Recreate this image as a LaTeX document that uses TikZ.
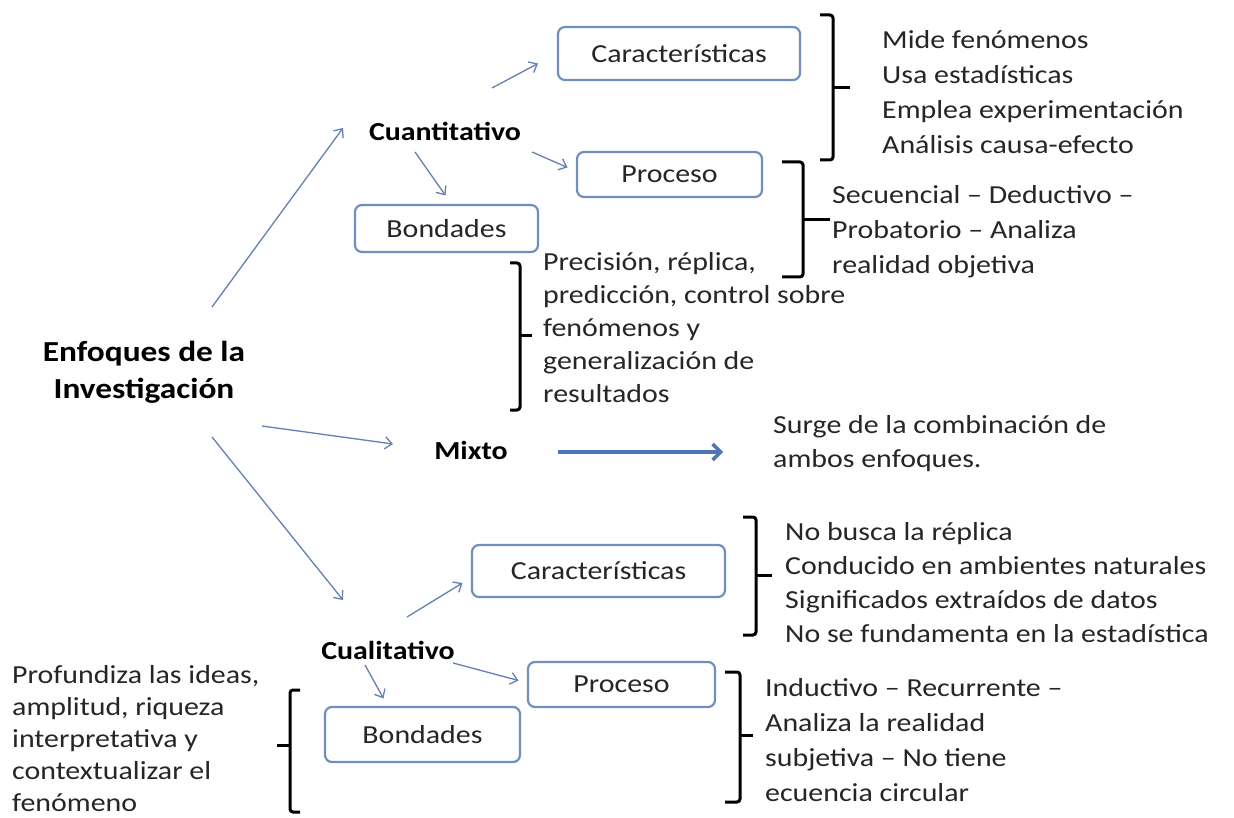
\documentclass[tikz,border=0pt]{standalone}
\usepackage{fontspec}
\setmainfont[FakeStretch=1.15]{Carlito}
\usepackage{xcolor}
\usepackage{tikz}
\usetikzlibrary{arrows.meta}
\definecolor{flecha}{RGB}{100,128,176}
\definecolor{borde}{RGB}{112,142,190}
\definecolor{mixta}{RGB}{78,118,178}
\definecolor{texto}{RGB}{38,38,38}

\begin{document}
\begin{tikzpicture}[x=1pt,y=1pt,
  caja/.style={draw=borde, line width=2.2pt, rounded corners=7pt, fill=white, inner sep=0pt, text=texto, font=\fontsize{26}{30}\selectfont},
  tema/.style={inner sep=0pt, font=\bfseries\fontsize{26}{30}\selectfont},
  lista/.style={anchor=north west, align=left, inner sep=0pt, text=texto, font=\fontsize{26}{34}\selectfont},
  flechita/.style={draw=flecha, line width=1.3pt, -{Straight Barb[length=7pt,width=12pt]}},
  flechamix/.style={draw=mixta, line width=3.5pt, -{Straight Barb[length=8pt,width=16pt]}},
  llave/.style={draw=black, line width=3pt, rounded corners=3pt}]
\fill [white] (0,0) rectangle (1234,-818);
\useasboundingbox (0,0) rectangle (1234,-818);
\draw (144,-372) node [tema, align=center, font=\bfseries\fontsize{29}{37}\selectfont] (enfoques) {Enfoques de la\\Investigación};
\draw (445,-131) node [tema] (cuanti) {Cuantitativo};
\draw (471,-450) node [tema] (mixto) {Mixto};
\draw (388,-650) node [tema] (cuali) {Cualitativo};
\draw (679,-53.5) node [caja, minimum width=242, minimum height=53] (carA) {Características};
\draw (669.5,-174.5) node [caja, minimum width=185, minimum height=45] (procA) {Proceso};
\draw (446.5,-228.5) node [caja, minimum width=183, minimum height=47] (bondA) {Bondades};
\draw (598.5,-571) node [caja, minimum width=253, minimum height=52] (carB) {Características};
\draw (621.5,-684.5) node [caja, minimum width=187, minimum height=45] (procB) {Proceso};
\draw (422.5,-734.5) node [caja, minimum width=195, minimum height=55] (bondB) {Bondades};
\draw (882,-23.5) node [lista, font=\fontsize{26}{35}\selectfont] (rasgosA) {\strut Mide fenómenos\\Usa estadísticas\\Emplea experimentación\\Análisis causa-efecto};
\draw (832,-178.5) node [lista, font=\fontsize{26}{35}\selectfont] (pasosA) {\strut Secuencial – Deductivo –\\Probatorio – Analiza\\realidad objetiva};
\draw (543,-247) node [lista, font=\fontsize{26}{33}\selectfont] (virtudesA) {\strut Precisión, réplica,\\predicción, control sobre\\fenómenos y\\generalización de\\resultados};
\draw (773,-409) node [lista] (surge) {\strut Surge de la combinación de\\ambos enfoques.};
\draw (785,-516) node [lista] (rasgosB) {\strut No busca la réplica\\Conducido en ambientes naturales\\Significados extraídos de datos\\No se fundamenta en la estadística};
\draw (765,-671.5) node [lista, font=\fontsize{26}{35}\selectfont] (pasosB) {\strut Inductivo – Recurrente –\\Analiza la realidad\\subjetiva – No tiene\\ecuencia circular};
\draw (12,-660.6) node [lista, font=\fontsize{26}{32}\selectfont] (virtudesB) {\strut Profundiza las ideas,\\amplitud, riqueza\\interpretativa y\\contextualizar el\\fenómeno};
\draw [flechita] ([shift={(68,65)}]enfoques.center) -- ([shift={(-102,3)}]cuanti.center);
\draw [flechita] ([shift={(118,-54)}]enfoques.center) -- ([shift={(-78,6)}]mixto.center);
\draw [flechita] ([shift={(68,-65)}]enfoques.center) -- ([shift={(-45,50)}]cuali.center);
\draw [flechita] ([shift={(47,43)}]cuanti.center) -- ([shift={(-141,-10)}]carA.center);
\draw [flechita] ([shift={(87,-21)}]cuanti.center) -- ([shift={(-102,7)}]procA.center);
\draw [flechita] ([shift={(-30,-21)}]cuanti.center) -- ([shift={(-1,33)}]bondA.center);
\draw [flechita] ([shift={(19,33)}]cuali.center) -- ([shift={(-136,-12)}]carB.center);
\draw [flechita] ([shift={(65,-13)}]cuali.center) -- ([shift={(-103,4)}]procB.center);
\draw [flechita] ([shift={(-23,-15)}]cuali.center) -- ([shift={(-39,36)}]bondB.center);
\draw [flechamix] ([shift={(87,-2)}]mixto.center) -- ([shift={(-50,-43)}]surge.north west);
\draw [llave] (820,-15) -- (833,-15) -- (833,-160) -- (820,-160);
\draw [llave] (833,-88) -- (850,-88);
\draw [llave] (782,-162) -- (803,-162) -- (803,-277) -- (782,-277);
\draw [llave] (803,-220) -- (830,-220);
\draw [llave] (510,-263) -- (520,-263) -- (520,-410) -- (510,-410);
\draw [llave] (520,-335) -- (532,-335);
\draw [llave] (743,-517) -- (756,-517) -- (756,-635) -- (743,-635);
\draw [llave] (756,-575) -- (772,-575);
\draw [llave] (725,-672) -- (740,-672) -- (740,-802) -- (725,-802);
\draw [llave] (740,-735) -- (753,-735);
\draw [llave] (300,-690) -- (290,-690) -- (290,-812) -- (300,-812);
\draw [llave] (290,-745) -- (277,-745);
\end{tikzpicture}
\end{document}
